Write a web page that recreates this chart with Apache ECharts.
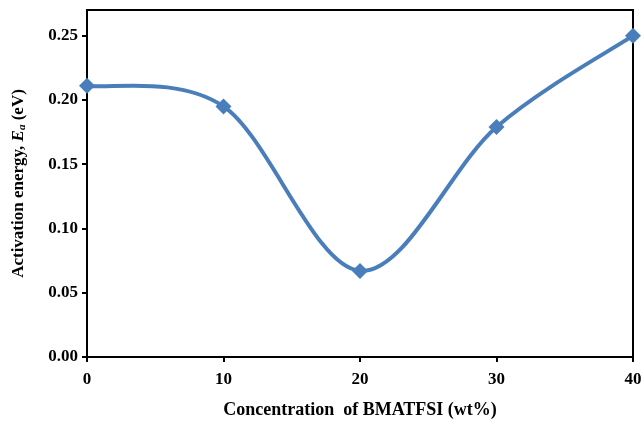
<!DOCTYPE html>
<html><head><meta charset="utf-8">
<script src="https://cdn.jsdelivr.net/npm/echarts@6/dist/echarts.min.js"></script>
<style>html,body{margin:0;padding:0;background:#fff}#c{width:644px;height:427px}</style>
</head><body><div id="c"></div>
<script>
const concentrations = [0, 10, 20, 30, 40];
const activationEnergy = [0.211, 0.195, 0.067, 0.179, 0.250];
const yTicks = [0, 0.05, 0.10, 0.15, 0.20, 0.25];
const xTicks = [0, 10, 20, 30, 40];

const font = '"Liberation Serif", "Times New Roman", serif';
const points = concentrations.map((x, i) => [x, activationEnergy[i]]);
const n = points.length;

const chart = echarts.init(document.getElementById('c'));
chart.setOption({
  backgroundColor: '#fff',
  animation: false,
  grid: { left: 87, right: 11, top: 10, bottom: 70, outerBoundsMode: 'none', containLabel: false, show: true, borderColor: '#000', borderWidth: 2, backgroundColor: 'transparent' },
  xAxis: {
    type: 'value', min: 0, max: 40, interval: 10,
    name: 'Concentration  of BMATFSI (wt%)', nameLocation: 'middle', nameGap: 44,
    nameTextStyle: { fontFamily: font, fontWeight: 'bold', fontSize: 18, color: '#000' },
    axisLine: { show: true, lineStyle: { color: '#000', width: 2 } },
    axisTick: { show: true, inside: false, length: 5, lineStyle: { color: '#000', width: 2 }, customValues: xTicks },
    axisLabel: { fontFamily: font, fontWeight: 'bold', fontSize: 17, color: '#000', margin: 14, customValues: xTicks },
    splitLine: { show: false }
  },
  yAxis: {
    type: 'value', min: 0, max: 0.27, interval: 0.05,
    name: '{b|Activation energy, }{i|E}{s|a}{b| (eV)}', nameLocation: 'middle', nameGap: 59, nameRotate: 90,
    nameTextStyle: {
      rich: {
        b: { fontFamily: font, fontWeight: 'bold', fontSize: 17, color: '#000' },
        i: { fontFamily: font, fontWeight: 'bold', fontStyle: 'italic', fontSize: 17, color: '#000' },
        s: { fontFamily: font, fontWeight: 'bold', fontStyle: 'italic', fontSize: 11, color: '#000', verticalAlign: 'bottom', padding: [7, 0, 0, 0] }
      }
    },
    axisLine: { show: true, lineStyle: { color: '#000', width: 2 } },
    axisTick: { show: true, inside: false, length: 5, lineStyle: { color: '#000', width: 2 }, customValues: yTicks },
    axisLabel: { fontFamily: font, fontWeight: 'bold', fontSize: 17, color: '#000', margin: 9, customValues: yTicks, formatter: v => v.toFixed(2) },
    splitLine: { show: false }
  },
  series: [{
    type: 'custom',
    data: points.slice(0, n - 1),
    clip: false,
    renderItem: function (params, api) {
      const i = params.dataIndex;
      const p = k => api.coord(points[Math.max(0, Math.min(n - 1, k))]);
      const p0 = p(i - 1), p1 = p(i), p2 = p(i + 1), p3 = p(i + 2);
      return {
        type: 'bezierCurve',
        shape: {
          x1: p1[0], y1: p1[1], x2: p2[0], y2: p2[1],
          cpx1: p1[0] + (p2[0] - p0[0]) / 6, cpy1: p1[1] + (p2[1] - p0[1]) / 6,
          cpx2: p2[0] - (p3[0] - p1[0]) / 6, cpy2: p2[1] - (p3[1] - p1[1]) / 6
        },
        style: { stroke: '#4a7ebb', lineWidth: 4, fill: null }
      };
    },
    z: 2
  }, {
    type: 'scatter',
    data: points,
    symbol: 'diamond', symbolSize: 16,
    itemStyle: { color: '#4a7ebb', opacity: 1 },
    clip: false,
    z: 3
  }]
});
</script></body></html>
